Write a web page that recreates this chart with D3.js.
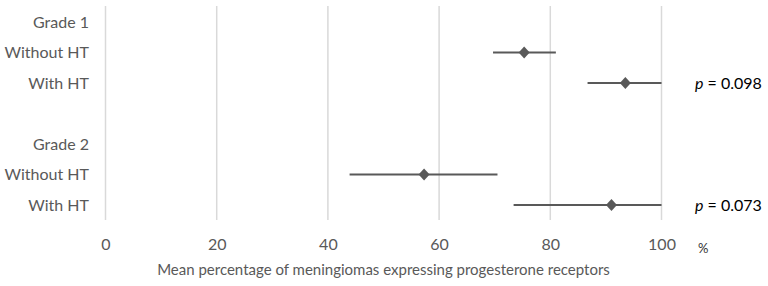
<!DOCTYPE html>
<html>
<head>
<meta charset="utf-8">
<script src="https://cdn.jsdelivr.net/npm/d3@7"></script>
<style>
  body { margin: 0; background: #fff; }
  text { font-family: Lato, "Open Sans", sans-serif; }
</style>
</head>
<body>
<div id="chart"></div>
<script>
// rows from top to bottom, headers have no values
const rows = ["Grade 1", "Without HT 1", "With HT 1", "", "Grade 2", "Without HT 2", "With HT 2"];
const rowLabels = ["Grade 1", "Without HT", "With HT", "", "Grade 2", "Without HT", "With HT"];

const pointRows = ["Without HT 1", "With HT 1", "Without HT 2", "With HT 2"];
const means = [75.3, 93.5, 57.3, 91.0];
const lows = [69.7, 86.7, 43.9, 73.4];
const highs = [81.0, 100, 70.5, 100];

const pRows = ["With HT 1", "With HT 2"];
const pValues = ["0.098", "0.073"];

const ticks = [0, 20, 40, 60, 80, 100];

const width = 768;
const height = 286;
const grey = "#595959";

const svg = d3.select("#chart")
    .append("svg")
    .attr("width", width)
    .attr("height", height);

const x = d3.scaleLinear()
    .domain([0, 100])
    .range([105.5, 661.5]);

const y = d3.scalePoint()
    .domain(rows)
    .range([22, 205]);

// vertical gridlines
svg.selectAll("line.grid").data(ticks).enter().append("line")
    .attr("class", "grid")
    .attr("x1", d => x(d))
    .attr("x2", d => x(d))
    .attr("y1", 6)
    .attr("y2", 220)
    .style("stroke", "#d9d9d9")
    .style("stroke-width", 1.5);

// x axis labels (no domain line)
const xAxis = svg.append("g")
    .attr("transform", "translate(0,235)")
    .call(d3.axisBottom(x).tickValues(ticks).tickSize(0).tickPadding(0));
xAxis.select(".domain").remove();
xAxis.selectAll("text")
    .attr("dy", "0.95em")
    .style("font-size", "16px")
    .style("fill", grey)
    .style("font-family", "Lato, sans-serif");

svg.append("text")
    .attr("x", 698)
    .attr("y", 253)
    .style("font-size", "13px")
    .style("fill", "#333")
    .text("%");

svg.append("text")
    .attr("x", x(50))
    .attr("y", 275)
    .attr("text-anchor", "middle")
    .style("font-size", "15px")
    .style("fill", grey)
    .text("Mean percentage of meningiomas expressing progesterone receptors");

// row labels
svg.selectAll("text.row").data(rows).enter().append("text")
    .attr("class", "row")
    .attr("x", 89)
    .attr("y", d => y(d))
    .attr("dy", "0.35em")
    .attr("text-anchor", "end")
    .style("font-size", "16px")
    .style("fill", grey)
    .text((d, i) => rowLabels[i]);

// error bars
svg.selectAll("line.err").data(pointRows).enter().append("line")
    .attr("class", "err")
    .attr("x1", (d, i) => x(lows[i]))
    .attr("x2", (d, i) => x(highs[i]))
    .attr("y1", d => y(d))
    .attr("y2", d => y(d))
    .style("stroke", grey)
    .style("stroke-width", 2);

// diamonds
svg.selectAll("path.mean").data(pointRows).enter().append("path")
    .attr("class", "mean")
    .attr("d", "M0,-6L5.5,0L0,6L-5.5,0Z")
    .attr("transform", (d, i) => "translate(" + x(means[i]) + "," + y(d) + ")")
    .style("fill", grey);

// p values
const pText = svg.selectAll("text.p").data(pRows).enter().append("text")
    .attr("class", "p")
    .attr("x", 695)
    .attr("y", d => y(d))
    .attr("dy", "0.35em")
    .style("font-size", "16px")
    .style("fill", "#000");
pText.append("tspan")
    .style("font-style", "italic")
    .text("p");
pText.append("tspan")
    .text((d, i) => " = " + pValues[i]);
</script>
</body>
</html>
